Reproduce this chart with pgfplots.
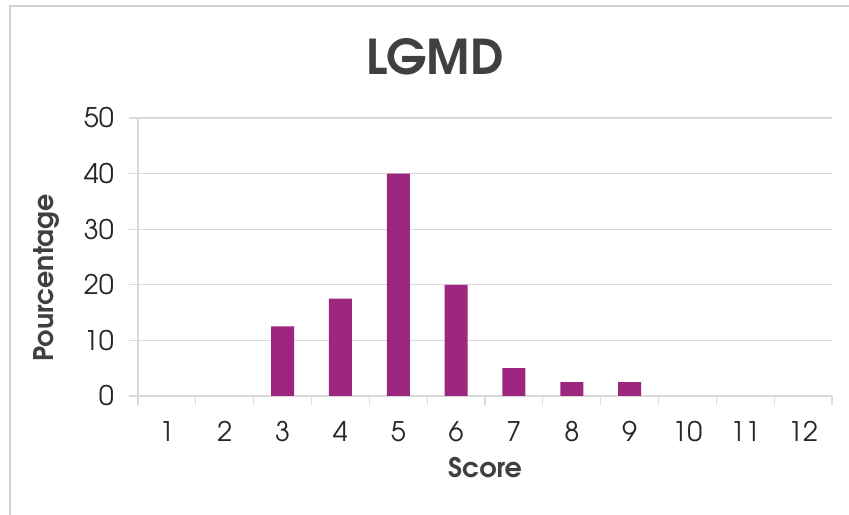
\documentclass[border=0pt]{standalone}
\usepackage{pgfplots}
\pgfplotsset{compat=1.18}
\usepackage{fontspec}
\setmainfont{TeX Gyre Adventor}
\definecolor{barc}{RGB}{157,38,126}
\definecolor{gridc}{RGB}{217,217,217}
\definecolor{txt}{RGB}{38,38,38}
\definecolor{lab}{RGB}{64,64,64}
\definecolor{frame}{RGB}{210,210,210}
\begin{document}
\begin{tikzpicture}[x=1bp,y=1bp]
\useasboundingbox (0,0) rectangle (849,515);
\draw[frame, line width=1.5bp] (10,0) -- (10,509) -- (849,509);
\node[font=\fontsize{48bp}{54bp}\selectfont\bfseries, text=lab, anchor=base] at (435,440) {LGMD};
\node[font=\fontsize{27bp}{30bp}\selectfont\bfseries, text=lab, anchor=base, rotate=90] at (53,237) {Pourcentage};
\node[font=\fontsize{27bp}{30bp}\selectfont\bfseries, text=lab, anchor=base] at (485,37) {Score};
\begin{axis}[
  at={(138bp,119bp)}, anchor=south west,
  scale only axis, width=694bp, height=278bp,
  xmin=0.5, xmax=12.5, ymin=0, ymax=50,
  axis lines*=left,
  axis line style={gridc, line width=1.2bp},
  xtick={1,...,12},
  minor xtick={0.5,1.5,...,12.5},
  ytick={0,10,...,50},
  major x tick style={draw=none},
  minor x tick style={gridc, line width=1.2bp},
  major y tick style={gridc, line width=1.2bp},
  tick align=outside,
  major tick length=9bp, minor tick length=9bp,
  ymajorgrids, grid style={gridc, line width=1.2bp},
  tick label style={font=\fontsize{27bp}{30bp}\selectfont, text=txt},
  /pgf/number format/assume math mode=true,
  xticklabel style={anchor=base, yshift=-37bp},
  yticklabel style={anchor=east, inner sep=0pt, xshift=-15bp},
  ybar, bar width=23bp,
  clip=false,
]
\addplot[fill=barc, draw=none] coordinates {
(3,12.5) (4,17.5) (5,40) (6,20) (7,5) (8,2.5) (9,2.5)};
\end{axis}
\end{tikzpicture}
\end{document}
